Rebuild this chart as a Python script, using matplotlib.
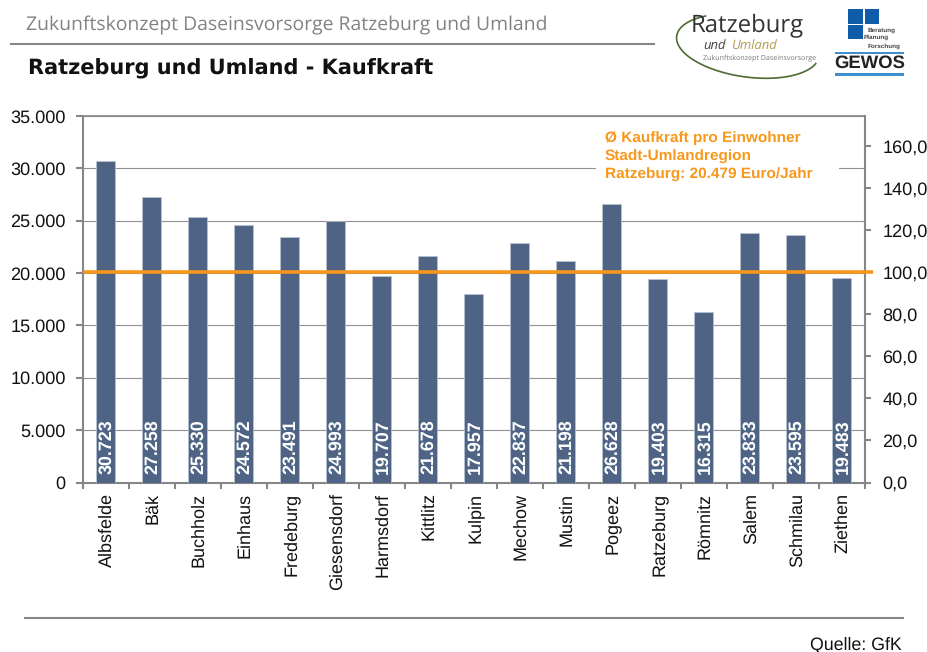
import matplotlib
matplotlib.use("Agg")
import matplotlib.pyplot as plt
import numpy as np
from matplotlib.patches import Rectangle
from matplotlib.transforms import blended_transform_factory

plt.rcParams['font.family'] = ['Liberation Sans', 'DejaVu Sans']
plt.rcParams['text.hinting'] = 'no_hinting'

categories = ["Albsfelde", "Bäk", "Buchholz", "Einhaus", "Fredeburg", "Giesensdorf",
              "Harmsdorf", "Kittlitz", "Kulpin", "Mechow", "Mustin", "Pogeez",
              "Ratzeburg", "Römnitz", "Salem", "Schmilau", "Ziethen"]
kaufkraft = [30723, 27258, 25330, 24572, 23491, 24993, 19707, 21678, 17957,
             22837, 21198, 26628, 19403, 16315, 23833, 23595, 19483]
left_ticks = [0, 5000, 10000, 15000, 20000, 25000, 30000, 35000]
right_ticks = [0, 20, 40, 60, 80, 100, 120, 140, 160]
index_average = 100

W, H = 927, 652
GREY = "#868686"
BAR = "#4F6484"
ORANGE = "#F7981D"
de = lambda v: f"{v:,.0f}".replace(",", ".")

fig = plt.figure(figsize=(W / 100, H / 100), dpi=100, facecolor="white")

L, R, T, B = 82.5, 864.5, 116, 482.5
ax = fig.add_axes([L / W, 1 - B / H, (R - L) / W, (B - T) / H])
ax.set_xlim(-0.5, len(categories) - 0.5)
ax.set_ylim(0, 35000)
ax.set_yticks(left_ticks)
ax.set_yticklabels([de(v) for v in left_ticks], fontsize=13.1, color="#111111")
ax.set_axisbelow(True)
ax.yaxis.grid(True, color="#909090", lw=0.8)
ax.xaxis.grid(False)

x = list(range(len(categories)))
ax.bar(x, kaufkraft, width=0.41, color=BAR, edgecolor="#B9C4D6", linewidth=0.5, zorder=3)
for xi, v in zip(x, kaufkraft):
    ax.annotate(de(v), (xi, 0), xytext=(1.5, 9), textcoords="offset pixels",
                rotation=90, ha="center", va="bottom", color="white",
                fontsize=12.9, fontweight="bold", zorder=5)

ax.set_xticks([i - 0.5 for i in range(len(categories) + 1)])
ax.set_xticklabels([])
ax.tick_params(axis="x", length=4, width=1.5, color=GREY)
ax.tick_params(axis="y", length=5, width=1.5, color=GREY, pad=7)
for xi, name in zip(x, categories):
    ax.annotate(name, (xi, 0), xytext=(1.5, -10), textcoords="offset pixels",
                rotation=90, ha="center", va="top", fontsize=13.0, color="#111111",
                annotation_clip=False)
for s in ax.spines.values():
    s.set_color(GREY)
    s.set_linewidth(1.5)
ax.spines["top"].set_linewidth(1.2)

ax2 = ax.twinx()
ax2.set_ylim(0, 174.5)
ax2.set_yticks(right_ticks)
ax2.set_yticklabels([f"{v:.1f}".replace(".", ",") for v in right_ticks], fontsize=13.1, color="#111111")
ax2.tick_params(axis="y", length=5, width=1.5, color=GREY, pad=8)
for s in ax2.spines.values():
    s.set_visible(False)
tr = blended_transform_factory(ax2.transAxes, ax2.transData)
ax2.plot([0, 1.0105], [index_average, index_average], transform=tr, color=ORANGE,
         lw=2.6, clip_on=False, solid_capstyle="butt", zorder=6)

# Overlay in pixel coordinates for header, footer, logos and the note
ov = fig.add_axes([0, 0, 1, 1], zorder=10)
ov.set_xlim(0, W)
ov.set_ylim(H, 0)
ov.axis("off")
ov.patch.set_alpha(0)

OS = ["Open Sans", "DejaVu Sans"]
ov.text(26, 25, "Zukunftskonzept Daseinsvorsorge Ratzeburg und Umland", fontsize=13.95,
        family=OS, color="#828282", va="center", ha="left")
ov.plot([11, 654], [44, 44], color="#868686", lw=1.5)
ov.text(28, 69, "Ratzeburg und Umland - Kaufkraft", fontsize=15, fontweight="bold",
        family=["DejaVu Sans"], color="#111111", va="center", ha="left")
ov.plot([25, 903], [618, 618], color="#868686", lw=1.5)
ov.text(902, 645, "Quelle: GfK", fontsize=12.8, color="#111111", ha="right", va="center")

ov.add_patch(Rectangle((596, 127), 243, 58, facecolor="white", edgecolor="none", zorder=2))
for y, line in zip((138.5, 156.5, 174.5), ("Ø Kaufkraft pro Einwohner", "Stadt-Umlandregion",
                                          "Ratzeburg: 20.479 Euro/Jahr")):
    ov.text(605, y, line, fontsize=11.1, fontweight="bold", color=ORANGE, va="center", ha="left", zorder=3)

# Ratzeburg logo
t = np.radians(np.linspace(15, 230, 120))
ex, ey = 72 * np.cos(t), 31 * np.sin(t)
tilt = np.radians(8)
ov.plot(748 + ex * np.cos(tilt) - ey * np.sin(tilt), 46 + ex * np.sin(tilt) + ey * np.cos(tilt),
        color="#4d6b33", lw=1.2)
ov.text(691, 26, "Ratzeburg", fontsize=17.2, color="#333333", va="center", ha="left", family=OS)
ov.text(703, 46.5, "und", fontsize=9.4, style="italic", color="#444444", va="center", ha="left", family=OS)
ov.text(732, 46.5, "Umland", fontsize=9.4, style="italic", color="#b09a50", va="center", ha="left", family=OS)
ov.text(703, 58, "Zukunftskonzept Daseinsvorsorge", fontsize=5.1, color="#777777", va="center",
        ha="left", family=OS)

# GEWOS logo
for rx, ry, rw, rh in [(848, 9, 15, 15), (865, 9, 14.5, 15), (848, 25, 15, 14)]:
    ov.add_patch(Rectangle((rx, ry), rw, rh, facecolor="#0F5CA8", edgecolor="none"))
for tx, ty, word in [(868, 30, "Beratung"), (864, 37.5, "Planung"), (868, 46, "Forschung")]:
    ov.text(tx, ty, word, fontsize=4.6, fontweight="bold", color="#444444", va="center", ha="left")
ov.add_patch(Rectangle((835, 51.5), 69, 2, facecolor="#3f8fd0", edgecolor="none"))
ov.add_patch(Rectangle((835, 73), 69, 2.5, facecolor="#3f8fd0", edgecolor="none"))
ov.text(869.5, 63.5, "GEWOS", fontsize=13.3, fontweight="bold", color="#222222", va="center", ha="center")

fig.savefig("out.png", dpi=100, facecolor="white")
